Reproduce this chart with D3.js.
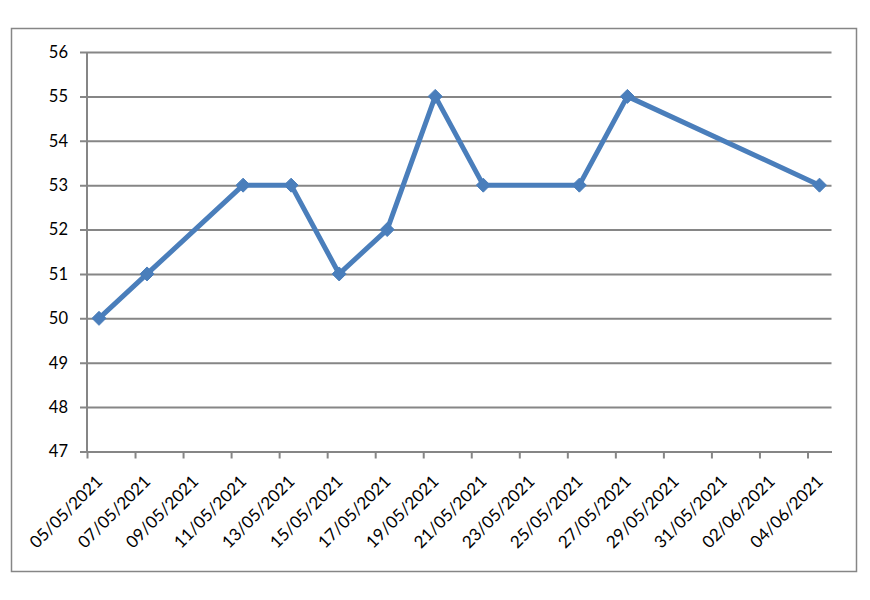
<!DOCTYPE html>
<html><head><meta charset="utf-8">
<script src="https://cdn.jsdelivr.net/npm/d3@7"></script>
<style>body{margin:0;background:#fff}svg{display:block}</style>
</head><body>
<script>
const dates = ["05/05/2021","07/05/2021","11/05/2021","13/05/2021","15/05/2021","17/05/2021","19/05/2021","21/05/2021","25/05/2021","27/05/2021","04/06/2021"];
const values = [50,51,53,53,51,52,55,53,53,55,53];
const xTickLabels = ["05/05/2021","07/05/2021","09/05/2021","11/05/2021","13/05/2021","15/05/2021","17/05/2021","19/05/2021","21/05/2021","23/05/2021","25/05/2021","27/05/2021","29/05/2021","31/05/2021","02/06/2021","04/06/2021"];
const yTicks = [47,48,49,50,51,52,53,54,55,56];

(function(){
const W=870,H=600;
const parse=d3.utcParse("%d/%m/%Y");
const svg=d3.select("body").append("svg").attr("width",W).attr("height",H);
svg.append("rect").attr("x",11.5).attr("y",28.5).attr("width",845).attr("height",543)
  .attr("fill","#fff").attr("stroke","#868686").attr("stroke-width",1.5);

const pl=87,pr=831.5,pt=52,pb=451.5;
const x=d3.scaleUtc().domain([parse(xTickLabels[0]), d3.utcDay.offset(parse(xTickLabels[xTickLabels.length-1]),1)]).range([pl,pr]);
const y=d3.scaleLinear().domain([47,56]).range([pb,pt]);
const half = (x(d3.utcDay.offset(parse(xTickLabels[0]),1))-x(parse(xTickLabels[0])))/2;
const font="Lato, 'Open Sans', sans-serif";

// gridlines + y axis
const ya=svg.append("g").attr("transform",`translate(${pl},0)`)
  .call(d3.axisLeft(y).tickValues(yTicks).tickSize(-(pr-pl)).tickSizeOuter(0).tickPadding(19).tickFormat(d3.format("d")));
ya.select(".domain").remove();
ya.selectAll(".tick line").attr("stroke","#868686").attr("stroke-width",2).attr("x1",-7);
ya.selectAll(".tick text").attr("font-family",font).attr("font-size",16.5).attr("fill","#000");
svg.append("line").attr("x1",pl).attr("x2",pl).attr("y1",pt).attr("y2",pb)
  .attr("stroke","#868686").attr("stroke-width",2);

// x axis
const xa=svg.append("g").attr("transform",`translate(0,${pb})`)
  .call(d3.axisBottom(x).tickValues(xTickLabels.map(parse)).tickSize(7).tickSizeOuter(0).tickFormat(d3.utcFormat("%d/%m/%Y")));
xa.select(".domain").attr("stroke","#868686").attr("stroke-width",2);
xa.selectAll(".tick line").attr("stroke","#868686").attr("stroke-width",2);
xa.selectAll(".tick text").attr("font-family",font).attr("font-size",17).attr("fill","#000")
  .attr("text-anchor","end").attr("dy",null).attr("y",0)
  .attr("transform","translate(16,31) rotate(-45)");

// line
const pts=dates.map((d,i)=>({x:x(parse(d))+half,y:y(values[i])}));
svg.append("path").datum(pts).attr("fill","none").attr("stroke","#4A7EBB").attr("stroke-width",5)
  .attr("stroke-linejoin","round").attr("d",d3.line().x(d=>d.x).y(d=>d.y));
svg.selectAll(".m").data(pts).enter().append("path")
  .attr("transform",d=>`translate(${d.x},${d.y})`)
  .attr("d","M0,-7L7,0L0,7L-7,0Z").attr("fill","#4A7EBB").attr("stroke","#4A7EBB").attr("stroke-width",1);
})();
</script>
</body></html>
